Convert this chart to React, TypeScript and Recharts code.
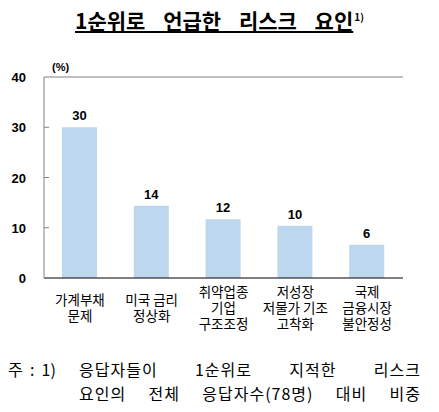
import React from 'react';
import { BarChart, Bar, XAxis, YAxis, LabelList, ReferenceLine } from 'recharts';

const categories = ['가계부채\n문제', '미국 금리\n정상화', '취약업종\n기업\n구조조정', '저성장\n저물가 기조\n고착화', '국제\n금융시장\n불안정성'];
const shares = [30, 14.4, 11.7, 10.4, 6.6];
const shareLabels = ['30', '14', '12', '10', '6'];
const yTicks = [0, 10, 20, 30, 40];

const data = categories.map((name, i) => ({ name, value: shares[i], label: shareLabels[i] }));

const KR = '"Noto Sans CJK KR", "Noto Sans", sans-serif';
const AR = '"Liberation Sans", Arial, sans-serif';

const YTick = ({ x, y, payload }: any) => (
  <g>
    <text x={x} y={y} dy={5} textAnchor="end" fontFamily={AR} fontWeight="bold" fontSize={13} fill="#000">
      {payload.value}
    </text>
    {payload.value > 0 && payload.value < 40 && (
      <line x1={x + 18} x2={x + 23} y1={y} y2={y} stroke="#808080" />
    )}
  </g>
);

const XTick = ({ x, y, payload }: any) => {
  const lines = String(payload.value).split('\n');
  const lh = 16;
  const h = lines.length * lh;
  const top = y + 21 - h / 2 + 8 - lh / 2;
  return (
    <foreignObject x={x - 45} y={top} width={90} height={h}>
      <div
        style={{
          fontFamily: KR,
          fontSize: 13.5,
          lineHeight: `${lh}px`,
          textAlign: 'center',
          color: '#000',
          whiteSpace: 'pre',
        }}
      >
        {lines.join('\n')}
      </div>
    </foreignObject>
  );
};

const noteStyle: React.CSSProperties = {
  position: 'absolute',
  fontFamily: KR,
  fontSize: 16,
  lineHeight: '23.5px',
  color: '#000',
};

export default function App() {
  return (
    <div style={{ position: 'absolute', left: 0, top: 0, width: 439, height: 412, background: '#fff' }}>
      <div
        style={{
          position: 'absolute',
          left: 0,
          width: 439,
          top: 5,
          textAlign: 'center',
          fontFamily: KR,
          fontWeight: 'bold',
          fontSize: 21,
          color: '#000',
        }}
      >
        <span style={{ textDecoration: 'underline', wordSpacing: 13 }}>1순위로 언급한 리스크 요인</span>
        <sup style={{ fontSize: 10, marginLeft: 1 }}>1)</sup>
      </div>
      <div style={{ position: 'absolute', left: 52, top: 61, fontFamily: AR, fontWeight: 'bold', fontSize: 11 }}>
        (%)
      </div>
      <BarChart width={439} height={340} data={data} margin={{ top: 77, right: 36, left: 4, bottom: 12 }}>
        <XAxis
          dataKey="name"
          interval={0}
          height={50}
          axisLine={{ stroke: '#000' }}
          tickLine={false}
          tick={<XTick />}
        />
        <YAxis
          domain={[0, 40]}
          ticks={yTicks}
          width={40}
          axisLine={{ stroke: '#808080' }}
          tickLine={false}
          tickSize={0}
          tickMargin={18}
          tick={<YTick />}
        />
        <YAxis yAxisId="r" orientation="right" width={0} tick={false} tickLine={false} axisLine={{ stroke: '#000' }} />
        <ReferenceLine y={40} stroke="#808080" />
        <Bar dataKey="value" fill="#bdd7ee" barSize={35} isAnimationActive={false}>
          <LabelList
            dataKey="label"
            position="top"
            offset={7}
            style={{ fontFamily: AR, fontWeight: 'bold', fontSize: 13, fill: '#000' }}
          />
        </Bar>
      </BarChart>
      <div style={{ ...noteStyle, left: 8, top: 358, whiteSpace: 'pre' }}>{'주  :  1)'}</div>
      <div style={{ ...noteStyle, left: 79, top: 358, width: 342, letterSpacing: 1, textAlign: 'justify' }}>
        <div style={{ textAlignLast: 'justify' }}>응답자들이 1순위로 지적한 리스크</div>
        <div style={{ textAlignLast: 'justify' }}>요인의 전체 응답자수(78명) 대비 비중</div>
      </div>
    </div>
  );
}
